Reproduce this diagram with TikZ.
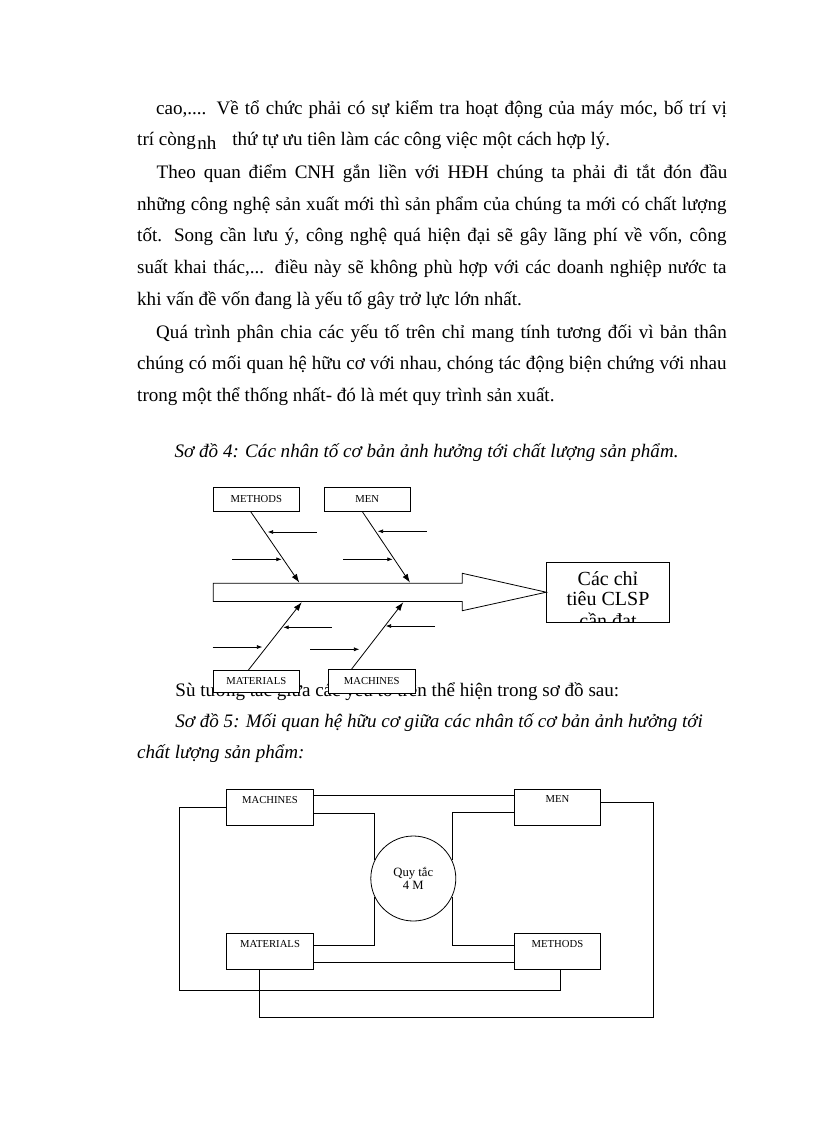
\documentclass[tikz,border=0pt]{standalone}
\usepackage{fontspec}
\setmainfont{Liberation Serif}
\usetikzlibrary{arrows.meta}

\begin{document}
\begin{tikzpicture}[x=0.75pt,y=-0.75pt,line width=0.6pt,
  txt/.style={anchor=base west,inner sep=0pt,font=\fontsize{14.3}{16}\selectfont},
  captxt/.style={anchor=base west,inner sep=0pt,font=\fontsize{14.3}{16}\selectfont\itshape},
  mbox/.style={draw,fill=white,inner sep=0pt,font=\fontsize{8}{9}\selectfont},
  lbl/.style={anchor=north,yshift=-5pt,inner sep=0pt,font=\fontsize{8}{9}\selectfont},
  restxt/.style={anchor=base,inner sep=0pt,font=\fontsize{15}{15}\selectfont},
  bone/.style={-{Latex[length=6.5pt,width=4.5pt]}},
  twig/.style={-{Latex[length=4pt,width=3pt]},line width=0.5pt}]
\useasboundingbox (0,0) rectangle (816,1123);

\node[txt] (l1) at (155.8,115) {\hbox to 428pt{cao,.... Về tổ chức phải có sự kiểm tra hoạt động của máy móc, bố trí vị}};
\node[txt] (l2) at (136.8,146) {trí còng\kern1pt\raisebox{-2.5pt}{nh}\hspace{12pt}thứ tự ưu tiên làm các công việc một cách hợp lý.};
\node[txt] (l3) at (156.3,178.3) {\hbox to 428pt{Theo quan điểm CNH gắn liền với HĐH chúng ta phải đi tắt đón đầu}};
\node[txt] (l4) at (136.8,210) {\hbox to 442pt{những công nghệ sản xuất mới thì sản phẩm của chúng ta mới có chất lượng}};
\node[txt] (l5) at (136.8,241.7) {\hbox to 442pt{tốt. Song cần lưu ý, công nghệ quá hiện đại sẽ gây lãng phí về vốn, công}};
\node[txt] (l6) at (136.8,273.3) {\hbox to 442pt{suất khai thác,... điều này sẽ không phù hợp với các doanh nghiệp nước ta}};
\node[txt] (l7) at (136.8,305) {khi vấn đề vốn đang là yếu tố gây trở lực lớn nhất.};
\node[txt] (l8) at (155.8,338.3) {\hbox to 428pt{Quá trình phân chia các yếu tố trên chỉ mang tính tương đối vì bản thân}};
\node[txt] (l9) at (136.8,369.3) {\hbox to 442pt{chúng có mối quan hệ hữu cơ với nhau, chóng tác động biện chứng với nhau}};
\node[txt] (l10) at (136.8,401.7) {trong một thể thống nhất- đó là mét quy trình sản xuất.};

\node[captxt] (cap4) at (174.3,457) {Sơ đồ 4: Các nhân tố cơ bản ảnh hưởng tới chất lượng sản phẩm.};
\node[txt] (l11) at (175,696.7) {Sù tương tác giữa các yếu tố trên thể hiện trong sơ đồ sau:};
\node[captxt] (cap5) at (175,727.5) {Sơ đồ 5: Mối quan hệ hữu cơ giữa các nhân tố cơ bản ảnh hưởng tới};
\node[captxt] (cap5b) at (136.8,758.3) {chất lượng sản phẩm:};

\node[mbox,minimum width=64.5pt,minimum height=18pt] (mth) at (256.3,499.3) {METHODS};
\node[mbox,minimum width=65pt,minimum height=18pt] (men) at (367.3,499.3) {MEN};
\node[mbox,minimum width=64.5pt,minimum height=16.1pt] (mat) at (256.3,681.3) {MATERIALS};
\node[mbox,minimum width=65pt,minimum height=17.8pt] (mac) at (371.7,681.2) {MACHINES};
\node[draw,minimum width=92pt,minimum height=44.8pt,inner sep=0pt] (res) at (608,592.2) {};
\begin{scope}
\clip (res.south west) rectangle (res.north east);
\node[restxt] (r1) at (608,585) {Các chỉ};
\node[restxt] (r2) at (608,605) {tiêu CLSP};
\node[restxt] (r3) at (608,627) {cần đạt};
\end{scope}

\coordinate (s1) at (299.3,582.6);
\coordinate (s2) at (410,582.6);
\coordinate (s3) at (301.7,602.2);
\coordinate (s4) at (403.3,602.2);
\draw (213.3,583.3) -- (462.3,583.3) -- (462.3,573.3) -- (res.west) -- (462.3,610.7) -- (462.3,601.5) -- (213.3,601.5) -- cycle;
\draw[bone] ([xshift=-4.2pt]mth.south) -- (s1);
\draw[bone] ([xshift=-3.7pt]men.south) -- (s2);
\draw[bone] ([xshift=-6pt]mat.north) -- (s3);
\draw[bone] ([xshift=-15pt]mac.north) -- (s4);
\foreach \xa/\xb/\yy in {316.7/267.7/532, 232.3/281.7/559.3, 426.7/377.7/531.3, 343.3/392.7/559.3,
  331.7/283.3/627.3, 212.7/262.3/647, 435/385.7/626, 310/359.3/649.3}
  \draw[twig] (\xa,\yy) -- (\xb,\yy);

\node[mbox,minimum width=65pt,minimum height=26.8pt,label={[lbl]north:MACHINES}] (mac2) at (270,807.2) {};
\node[mbox,minimum width=65pt,minimum height=26.8pt,label={[lbl]north:MEN}] (men2) at (557.5,807.2) {};
\node[mbox,minimum width=65pt,minimum height=27pt,label={[lbl]north:MATERIALS}] (mat2) at (270,951.3) {};
\node[mbox,minimum width=65pt,minimum height=27pt,label={[lbl]north:METHODS}] (met2) at (557.5,951.3) {};
\node[draw,circle,minimum size=63.75pt,inner sep=0pt,align=center,font=\fontsize{9.5}{9.5}\selectfont] (rule) at (413.3,878.5) {Quy tắc\\4 M};

\coordinate (lo1) at (179.3,990.7);
\coordinate (lo2) at (653.3,1017.3);
\draw ([yshift=9.15pt]mac2.east) -- ([yshift=9.15pt]men2.west);
\draw (mac2.west) -| (lo1) -| ([xshift=2.4pt]met2.south);
\draw ([yshift=-4.6pt]mac2.east) -| (rule.155);
\draw ([yshift=4.7pt]mat2.east) -| (rule.205);
\draw ([yshift=-4.1pt]men2.west) -| (rule.25);
\draw ([yshift=4.7pt]met2.west) -| (rule.335);
\draw ([yshift=-8.55pt]mat2.east) -- ([yshift=-8.55pt]met2.west);
\draw ([yshift=3.7pt]men2.east) -| (lo2) -| ([xshift=-8pt]mat2.south);
\end{tikzpicture}
\end{document}
